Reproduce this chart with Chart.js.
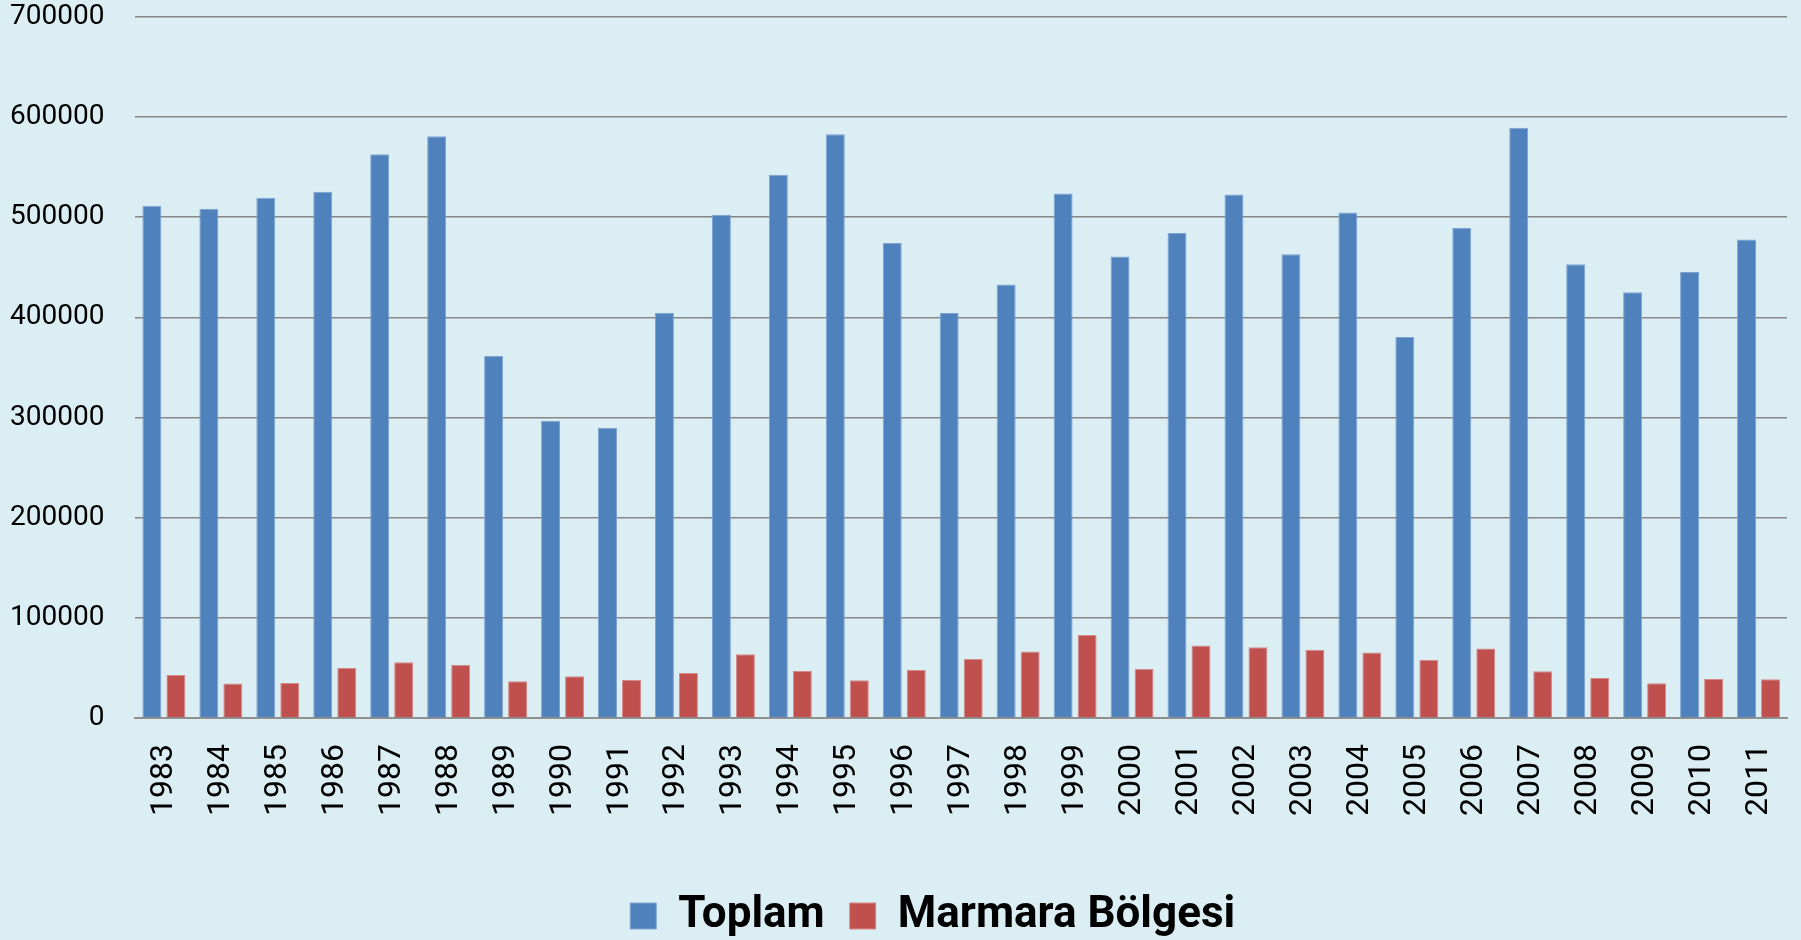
<!DOCTYPE html>
<html>
<head>
<meta charset="utf-8">
<script src="https://cdn.jsdelivr.net/npm/chart.js@4/dist/chart.umd.min.js"></script>
<style>
html,body{margin:0;padding:0;background:#DBEEF4;}
#wrap{width:1801px;height:940px;position:relative;}
</style>
</head>
<body>
<div id="wrap"><canvas id="c" width="1801" height="940"></canvas></div>
<script>
const years = ["1983","1984","1985","1986","1987","1988","1989","1990","1991","1992","1993","1994","1995","1996","1997","1998","1999","2000","2001","2002","2003","2004","2005","2006","2007","2008","2009","2010","2011"];
const toplam = [511300,508300,519300,525300,562700,580700,361300,296700,289700,404700,502300,542300,582700,474300,404300,432700,523700,460700,484300,522700,463000,504700,380300,489300,589300,453000,425000,445300,477700];
const marmara = [43000,34400,35100,50000,55600,53300,36700,41700,38100,45000,63600,47000,37700,48000,59200,66500,82800,49300,72500,70800,68200,65500,58300,69500,46700,40100,34800,39100,38700];
const seriesNames = ["Toplam","Marmara Bölgesi"];
const yTicks = [0,100000,200000,300000,400000,500000,600000,700000];

const legendShift = {
  id:'legendShift',
  afterLayout(chart){
    const lg = chart.legend;
    if(!lg) return;
    const dx = 932.7 - (lg.left + lg.right)/2;
    lg.left += dx; lg.right += dx;
    const dy = 53;
    lg.top += dy; lg.bottom += dy;
  }
};

new Chart(document.getElementById('c'), {
  type:'bar',
  data:{
    labels: years,
    datasets:[
      {label:seriesNames[0], data:toplam, backgroundColor:'#4F81BD', borderColor:'#7fa2cf', borderWidth:1,
       categoryPercentage:0.843, barPercentage:0.79},
      {label:seriesNames[1], data:marmara, backgroundColor:'#C0504D', borderColor:'#d58a88', borderWidth:1,
       categoryPercentage:0.843, barPercentage:0.79}
    ]
  },
  options:{
    responsive:false,
    animation:false,
    layout:{padding:{left:10,right:14,top:0,bottom:45}},
    plugins:{
      legend:{
        position:'bottom',
        labels:{
          boxWidth:26, boxHeight:26, padding:25, color:'#000',
          font:{family:'Roboto', size:44, weight:'bold'}
        }
      },
      tooltip:{enabled:false}
    },
    scales:{
      x:{
        grid:{display:false, drawTicks:true, tickLength:26, tickColor:'rgba(0,0,0,0)'},
        border:{display:true, color:'#8f8f8f', width:2},
        ticks:{color:'#000', font:{family:'Roboto', size:32}, minRotation:90, maxRotation:90, padding:0, autoSkip:false}
      },
      y:{
        min:0, max:700000,
        afterBuildTicks(axis){ axis.ticks = yTicks.map(v=>({value:v})); },
        grid:{color:'#878787', lineWidth:1.6, drawTicks:true, tickLength:31, tickColor:'rgba(0,0,0,0)'},
        border:{display:false},
        ticks:{color:'#000', font:{family:'Roboto', size:28}, padding:0, callback:v=>String(v)}
      }
    }
  },
  plugins:[legendShift]
});
</script>
</body>
</html>
